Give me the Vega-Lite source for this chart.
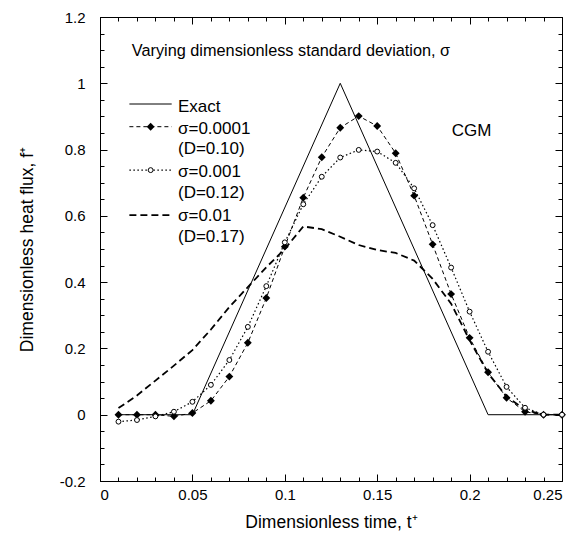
{
  "$schema": "https://vega.github.io/schema/vega-lite/v6.json",
  "width": 462,
  "height": 464,
  "autosize": {"type": "none"},
  "padding": {"left": 100, "top": 17, "right": 22, "bottom": 73},
  "background": "white",
  "config": {
    "view": {"stroke": "black", "strokeWidth": 1},
    "axis": {
      "grid": false, "domain": false,
      "labelFont": "Liberation Sans", "labelFontSize": 15, "labelColor": "black",
      "titleFont": "Liberation Sans", "titleFontSize": 17.5, "titleFontWeight": "normal", "titleColor": "black",
      "tickColor": "black", "tickWidth": 1
    }
  },
  "datasets": {
    "curves": [
      {"s": "exact", "p": "c", "t": 0.01, "f": 0},
      {"s": "exact", "p": "c", "t": 0.05, "f": 0},
      {"s": "exact", "p": "c", "t": 0.13, "f": 1},
      {"s": "exact", "p": "c", "t": 0.21, "f": 0},
      {"s": "exact", "p": "c", "t": 0.25, "f": 0},
      {"s": "exact", "p": "l", "t": 0.0159, "f": 0.9375},
      {"s": "exact", "p": "l", "t": 0.0388, "f": 0.9375},

      {"s": "s4", "p": "c", "t": 0.01, "f": 0},
      {"s": "s4", "p": "c", "t": 0.02, "f": 0},
      {"s": "s4", "p": "c", "t": 0.03, "f": 0},
      {"s": "s4", "p": "c", "t": 0.04, "f": -0.005},
      {"s": "s4", "p": "c", "t": 0.05, "f": 0.005},
      {"s": "s4", "p": "c", "t": 0.06, "f": 0.042},
      {"s": "s4", "p": "c", "t": 0.07, "f": 0.115},
      {"s": "s4", "p": "c", "t": 0.08, "f": 0.217},
      {"s": "s4", "p": "c", "t": 0.09, "f": 0.352},
      {"s": "s4", "p": "c", "t": 0.10, "f": 0.507},
      {"s": "s4", "p": "c", "t": 0.11, "f": 0.655},
      {"s": "s4", "p": "c", "t": 0.12, "f": 0.777},
      {"s": "s4", "p": "c", "t": 0.13, "f": 0.866},
      {"s": "s4", "p": "c", "t": 0.14, "f": 0.901},
      {"s": "s4", "p": "c", "t": 0.15, "f": 0.871},
      {"s": "s4", "p": "c", "t": 0.16, "f": 0.789},
      {"s": "s4", "p": "c", "t": 0.17, "f": 0.661},
      {"s": "s4", "p": "c", "t": 0.18, "f": 0.514},
      {"s": "s4", "p": "c", "t": 0.19, "f": 0.364},
      {"s": "s4", "p": "c", "t": 0.20, "f": 0.232},
      {"s": "s4", "p": "c", "t": 0.21, "f": 0.128},
      {"s": "s4", "p": "c", "t": 0.22, "f": 0.051},
      {"s": "s4", "p": "c", "t": 0.23, "f": 0.009},
      {"s": "s4", "p": "c", "t": 0.24, "f": 0},
      {"s": "s4", "p": "c", "t": 0.25, "f": 0},
      {"s": "s4", "p": "l", "t": 0.0159, "f": 0.869},
      {"s": "s4", "p": "l", "t": 0.0388, "f": 0.869},
      {"s": "s4", "p": "m", "t": 0.0274, "f": 0.869},

      {"s": "s3", "p": "c", "t": 0.01, "f": -0.021},
      {"s": "s3", "p": "c", "t": 0.02, "f": -0.016},
      {"s": "s3", "p": "c", "t": 0.03, "f": -0.005},
      {"s": "s3", "p": "c", "t": 0.04, "f": 0.009},
      {"s": "s3", "p": "c", "t": 0.05, "f": 0.039},
      {"s": "s3", "p": "c", "t": 0.06, "f": 0.09},
      {"s": "s3", "p": "c", "t": 0.07, "f": 0.165},
      {"s": "s3", "p": "c", "t": 0.08, "f": 0.265},
      {"s": "s3", "p": "c", "t": 0.09, "f": 0.388},
      {"s": "s3", "p": "c", "t": 0.10, "f": 0.52},
      {"s": "s3", "p": "c", "t": 0.11, "f": 0.635},
      {"s": "s3", "p": "c", "t": 0.12, "f": 0.718},
      {"s": "s3", "p": "c", "t": 0.13, "f": 0.776},
      {"s": "s3", "p": "c", "t": 0.14, "f": 0.799},
      {"s": "s3", "p": "c", "t": 0.15, "f": 0.794},
      {"s": "s3", "p": "c", "t": 0.16, "f": 0.76},
      {"s": "s3", "p": "c", "t": 0.17, "f": 0.683},
      {"s": "s3", "p": "c", "t": 0.18, "f": 0.572},
      {"s": "s3", "p": "c", "t": 0.19, "f": 0.444},
      {"s": "s3", "p": "c", "t": 0.20, "f": 0.311},
      {"s": "s3", "p": "c", "t": 0.21, "f": 0.19},
      {"s": "s3", "p": "c", "t": 0.22, "f": 0.084},
      {"s": "s3", "p": "c", "t": 0.23, "f": 0.021},
      {"s": "s3", "p": "c", "t": 0.24, "f": 0},
      {"s": "s3", "p": "c", "t": 0.25, "f": 0},
      {"s": "s3", "p": "l", "t": 0.0159, "f": 0.738},
      {"s": "s3", "p": "l", "t": 0.0388, "f": 0.738},
      {"s": "s3", "p": "m", "t": 0.0274, "f": 0.738},

      {"s": "s2", "p": "c", "t": 0.01, "f": 0.02},
      {"s": "s2", "p": "c", "t": 0.02, "f": 0.058},
      {"s": "s2", "p": "c", "t": 0.03, "f": 0.103},
      {"s": "s2", "p": "c", "t": 0.04, "f": 0.148},
      {"s": "s2", "p": "c", "t": 0.05, "f": 0.195},
      {"s": "s2", "p": "c", "t": 0.06, "f": 0.257},
      {"s": "s2", "p": "c", "t": 0.07, "f": 0.325},
      {"s": "s2", "p": "c", "t": 0.08, "f": 0.385},
      {"s": "s2", "p": "c", "t": 0.09, "f": 0.445},
      {"s": "s2", "p": "c", "t": 0.10, "f": 0.50},
      {"s": "s2", "p": "c", "t": 0.11, "f": 0.568},
      {"s": "s2", "p": "c", "t": 0.12, "f": 0.56},
      {"s": "s2", "p": "c", "t": 0.13, "f": 0.537},
      {"s": "s2", "p": "c", "t": 0.14, "f": 0.512},
      {"s": "s2", "p": "c", "t": 0.15, "f": 0.497},
      {"s": "s2", "p": "c", "t": 0.16, "f": 0.488},
      {"s": "s2", "p": "c", "t": 0.17, "f": 0.465},
      {"s": "s2", "p": "c", "t": 0.18, "f": 0.41},
      {"s": "s2", "p": "c", "t": 0.19, "f": 0.335},
      {"s": "s2", "p": "c", "t": 0.20, "f": 0.225},
      {"s": "s2", "p": "c", "t": 0.21, "f": 0.125},
      {"s": "s2", "p": "c", "t": 0.22, "f": 0.055},
      {"s": "s2", "p": "c", "t": 0.23, "f": 0.015},
      {"s": "s2", "p": "c", "t": 0.24, "f": 0.0},
      {"s": "s2", "p": "c", "t": 0.25, "f": 0.0},
      {"s": "s2", "p": "l", "t": 0.0159, "f": 0.6025},
      {"s": "s2", "p": "l", "t": 0.0388, "f": 0.6025}
    ],
    "texts": [
      {"label": "Exact", "t": 0.0422, "f": 0.914},
      {"label": "σ=0.0001", "t": 0.0422, "f": 0.847},
      {"label": "(D=0.10)", "t": 0.0422, "f": 0.787},
      {"label": "σ=0.001", "t": 0.0422, "f": 0.716},
      {"label": "(D=0.12)", "t": 0.0422, "f": 0.653},
      {"label": "σ=0.01", "t": 0.0422, "f": 0.584},
      {"label": "(D=0.17)", "t": 0.0422, "f": 0.522},
      {"label": "CGM", "t": 0.1903, "f": 0.841}
    ],
    "heading": [
      {"label": "Varying dimensionless standard deviation, σ", "t": 0.0172, "f": 1.081}
    ]
  },
  "resolve": {"axis": {"x": "independent", "y": "independent"}},
  "layer": [
    {
      "data": {"name": "curves"},
      "transform": [{"filter": "datum.s == 'exact'"}],
      "mark": {"type": "line", "color": "black", "strokeWidth": 1},
      "encoding": {
        "x": {"field": "t", "type": "quantitative", "scale": {"domain": [0, 0.25], "nice": false, "zero": false},
          "axis": {"orient": "bottom", "values": [0, 0.05, 0.1, 0.15, 0.2, 0.25], "ticks": false, "labelPadding": 6, "labelExpr": "'' + datum.value", "title": "Dimensionless time,  t⁺", "titlePadding": 11}},
        "y": {"field": "f", "type": "quantitative", "scale": {"domain": [-0.2, 1.2], "nice": false, "zero": false},
          "axis": {"orient": "left", "values": [-0.2, 0, 0.2, 0.4, 0.6, 0.8, 1, 1.2], "ticks": false, "labelPadding": 15, "labelExpr": "'' + datum.value", "title": "Dimensionless heat flux,  f⁺", "titlePadding": 23}},
        "detail": {"field": "p"}
      }
    },
    {
      "data": {"name": "curves"},
      "transform": [{"filter": "datum.s == 's2'"}],
      "mark": {"type": "line", "color": "black", "strokeWidth": 1.8, "strokeDash": [7, 4]},
      "encoding": {
        "x": {"field": "t", "type": "quantitative", "scale": {"domain": [0, 0.25], "nice": false, "zero": false},
          "axis": {"orient": "bottom", "values": [0, 0.05, 0.1, 0.15, 0.2, 0.25], "labelOpacity": 0, "tickSize": 7, "offset": -7, "title": " ", "titleOpacity": 0}},
        "y": {"field": "f", "type": "quantitative", "scale": {"domain": [-0.2, 1.2], "nice": false, "zero": false},
          "axis": {"orient": "left", "values": [-0.2, 0, 0.2, 0.4, 0.6, 0.8, 1, 1.2], "labelOpacity": 0, "tickSize": 7, "offset": -7, "title": " ", "titleOpacity": 0}},
        "detail": {"field": "p"}
      }
    },
    {
      "data": {"name": "curves"},
      "transform": [{"filter": "datum.s == 's4'"}],
      "mark": {"type": "line", "color": "black", "strokeWidth": 1, "strokeDash": [4, 3]},
      "encoding": {
        "x": {"field": "t", "type": "quantitative", "scale": {"domain": [0, 0.25], "nice": false, "zero": false},
          "axis": {"orient": "bottom", "tickCount": 25, "labelOpacity": 0, "tickSize": -4, "title": " ", "titleOpacity": 0}},
        "y": {"field": "f", "type": "quantitative", "scale": {"domain": [-0.2, 1.2], "nice": false, "zero": false},
          "axis": {"orient": "left", "tickCount": 28, "labelOpacity": 0, "tickSize": -4, "title": " ", "titleOpacity": 0}},
        "detail": {"field": "p"}
      }
    },
    {
      "data": {"name": "curves"},
      "transform": [{"filter": "datum.s == 's3'"}],
      "mark": {"type": "line", "color": "black", "strokeWidth": 1.2, "strokeDash": [1.5, 2.5]},
      "encoding": {
        "x": {"field": "t", "type": "quantitative", "scale": {"domain": [0, 0.25], "nice": false, "zero": false},
          "axis": {"orient": "top", "values": [0, 0.05, 0.1, 0.15, 0.2, 0.25], "labelOpacity": 0, "tickSize": 7, "offset": -7, "title": " ", "titleOpacity": 0}},
        "y": {"field": "f", "type": "quantitative", "scale": {"domain": [-0.2, 1.2], "nice": false, "zero": false},
          "axis": {"orient": "right", "values": [-0.2, 0, 0.2, 0.4, 0.6, 0.8, 1, 1.2], "labelOpacity": 0, "tickSize": 7, "offset": -7, "title": " ", "titleOpacity": 0}},
        "detail": {"field": "p"}
      }
    },
    {
      "data": {"name": "curves"},
      "transform": [{"filter": "datum.s == 's4' && datum.p != 'l'"}],
      "mark": {"type": "point", "shape": "diamond", "filled": true, "color": "black", "size": 62, "opacity": 1},
      "encoding": {
        "x": {"field": "t", "type": "quantitative", "scale": {"domain": [0, 0.25], "nice": false, "zero": false},
          "axis": {"orient": "top", "tickCount": 25, "labelOpacity": 0, "tickSize": -4, "title": " ", "titleOpacity": 0}},
        "y": {"field": "f", "type": "quantitative", "scale": {"domain": [-0.2, 1.2], "nice": false, "zero": false},
          "axis": {"orient": "right", "tickCount": 28, "labelOpacity": 0, "tickSize": -4, "title": " ", "titleOpacity": 0}}
      }
    },
    {
      "data": {"name": "curves"},
      "transform": [{"filter": "datum.s == 's3' && datum.p != 'l'"}],
      "mark": {"type": "point", "shape": "circle", "filled": false, "fill": "white", "stroke": "black", "strokeWidth": 1, "size": 24, "opacity": 1},
      "encoding": {
        "x": {"field": "t", "type": "quantitative", "scale": {"domain": [0, 0.25], "nice": false, "zero": false}, "axis": null},
        "y": {"field": "f", "type": "quantitative", "scale": {"domain": [-0.2, 1.2], "nice": false, "zero": false}, "axis": null}
      }
    },
    {
      "data": {"name": "texts"},
      "mark": {"type": "text", "align": "left", "baseline": "alphabetic", "font": "Liberation Sans", "fontSize": 17, "color": "black"},
      "encoding": {
        "x": {"field": "t", "type": "quantitative", "scale": {"domain": [0, 0.25], "nice": false, "zero": false}, "axis": null},
        "y": {"field": "f", "type": "quantitative", "scale": {"domain": [-0.2, 1.2], "nice": false, "zero": false}, "axis": null},
        "text": {"field": "label"}
      }
    },
    {
      "data": {"name": "heading"},
      "mark": {"type": "text", "align": "left", "baseline": "alphabetic", "font": "Liberation Sans", "fontSize": 16.3, "color": "black"},
      "encoding": {
        "x": {"field": "t", "type": "quantitative", "scale": {"domain": [0, 0.25], "nice": false, "zero": false}, "axis": null},
        "y": {"field": "f", "type": "quantitative", "scale": {"domain": [-0.2, 1.2], "nice": false, "zero": false}, "axis": null},
        "text": {"field": "label"}
      }
    }
  ]
}
